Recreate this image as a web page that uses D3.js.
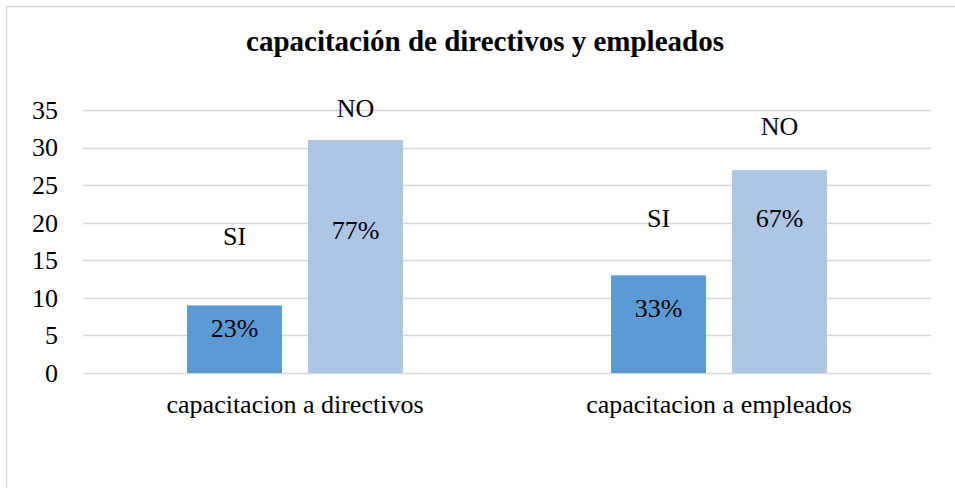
<!DOCTYPE html>
<html lang="es">
<head>
<meta charset="UTF-8">
<script src="https://d3js.org/d3.v7.min.js"></script>
<style>
body { margin: 0; background: #fff; }
</style>
</head>
<body>
<div id="chart"></div>
<script>
// data
var categories = ["capacitacion a directivos", "capacitacion a empleados"];
var series = ["SI", "NO"];
var siValues = [9, 13];
var noValues = [31, 27];
var siPct = ["23%", "33%"];
var noPct = ["77%", "67%"];
var yTicks = [0, 5, 10, 15, 20, 25, 30, 35];
// where the (hand moved) data labels sit, in axis units
var siNameAt = [18.2, 20.6];
var noNameAt = [35.3, 32.9];
var siPctAt = [6, 8.7];
var noPctAt = [19, 20.6];

var FONT = "'Liberation Serif', 'Times New Roman', serif";
var LABEL_SIZE = "26px";

var W = 955, H = 488;
var margin = {top: 110, right: 24, bottom: 115, left: 83},
    width = W - margin.left - margin.right,
    height = H - margin.top - margin.bottom;

var svg = d3.select("#chart").append("svg")
    .attr("width", W)
    .attr("height", H)
    .style("font-family", FONT);

// outer frame
svg.append("rect")
    .attr("x", 6.5).attr("y", 6.5)
    .attr("width", W + 10).attr("height", H + 10)
    .attr("fill", "none")
    .attr("stroke", "#d9d9d9")
    .attr("stroke-width", 1.5);

svg.append("text")
    .attr("x", 485)
    .attr("y", 51)
    .attr("text-anchor", "middle")
    .style("font-family", FONT)
    .style("font-size", "29px")
    .style("font-weight", "bold")
    .text("capacitación de directivos y empleados");

var g = svg.append("g")
    .attr("transform", "translate(" + margin.left + "," + margin.top + ")");

var y = d3.scaleLinear().domain([0, 35]).range([height, 0]);
var x0 = d3.scaleBand().domain(categories).range([0, width]);
var x1 = d3.scaleBand().domain(series).range([0, x0.bandwidth()])
    .paddingInner(0.215).paddingOuter(0.86);

var color = d3.scaleOrdinal().domain(series).range(["#5b9bd5", "#adc6e6"]);

// gridlines
g.append("g")
  .selectAll("line")
  .data(yTicks)
  .enter().append("line")
    .attr("x1", 0).attr("x2", width)
    .attr("y1", function(d) { return Math.round(y(d)) + 0.5; })
    .attr("y2", function(d) { return Math.round(y(d)) + 0.5; })
    .attr("stroke", "#d9d9d9")
    .attr("stroke-width", 1.5);

// y axis labels
var yAxis = g.append("g")
    .call(d3.axisLeft(y).tickValues(yTicks).tickSize(0).tickPadding(25));
yAxis.select(".domain").remove();
yAxis.attr("font-family", null).attr("font-size", null);
yAxis.selectAll("text")
    .style("font-family", FONT)
    .style("font-size", LABEL_SIZE)
    .attr("fill", "#000");

// x axis labels
var xAxis = g.append("g")
    .attr("transform", "translate(0," + height + ")")
    .call(d3.axisBottom(x0).tickSize(0).tickPadding(22));
xAxis.select(".domain").remove();
xAxis.attr("font-family", null).attr("font-size", null);
xAxis.selectAll("text")
    .style("font-family", FONT)
    .style("font-size", LABEL_SIZE)
    .attr("fill", "#000");

var rows = categories.map(function(c, i) {
  return [
    {cat: c, key: "SI", value: siValues[i], pct: siPct[i], nameAt: siNameAt[i], pctAt: siPctAt[i]},
    {cat: c, key: "NO", value: noValues[i], pct: noPct[i], nameAt: noNameAt[i], pctAt: noPctAt[i]}
  ];
});
var flat = [].concat.apply([], rows);

var cx = function(d) { return x0(d.cat) + x1(d.key) + x1.bandwidth() / 2; };

g.append("g")
  .selectAll("rect")
  .data(flat)
  .enter().append("rect")
    .attr("x", function(d) { return x0(d.cat) + x1(d.key); })
    .attr("y", function(d) { return y(d.value); })
    .attr("width", x1.bandwidth())
    .attr("height", function(d) { return height - y(d.value); })
    .attr("fill", function(d) { return color(d.key); });

// series name labels
g.append("g")
  .selectAll("text")
  .data(flat)
  .enter().append("text")
    .attr("x", cx)
    .attr("y", function(d) { return y(d.nameAt); })
    .attr("dy", "0.35em")
    .attr("text-anchor", "middle")
    .style("font-family", FONT)
    .style("font-size", LABEL_SIZE)
    .text(function(d) { return d.key; });

// percentage labels
g.append("g")
  .selectAll("text")
  .data(flat)
  .enter().append("text")
    .attr("x", cx)
    .attr("y", function(d) { return y(d.pctAt); })
    .attr("dy", "0.35em")
    .attr("text-anchor", "middle")
    .style("font-family", FONT)
    .style("font-size", LABEL_SIZE)
    .text(function(d) { return d.pct; });
</script>
</body>
</html>
